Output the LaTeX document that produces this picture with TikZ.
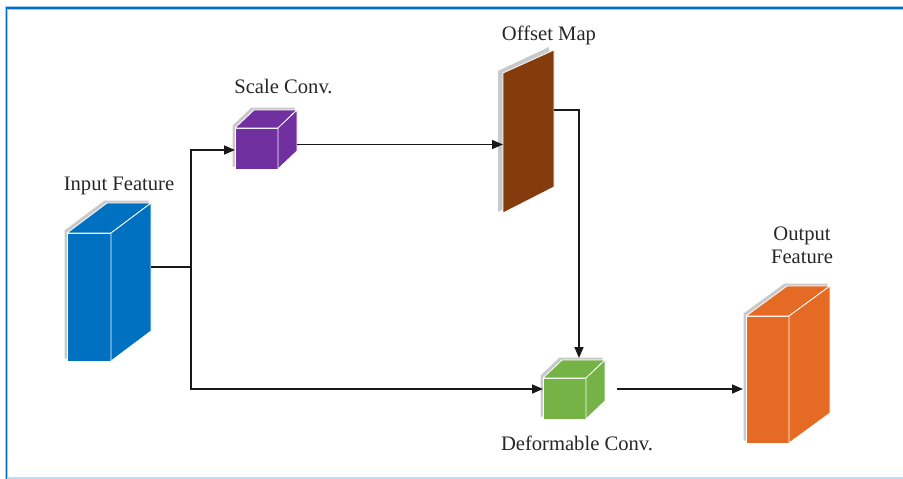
\documentclass[tikz,border=0pt]{standalone}
\usepackage{fontspec}
\setmainfont{Liberation Serif}
\usetikzlibrary{calc,arrows.meta}
\definecolor{cblue}{HTML}{0070C0}
\definecolor{cpurple}{HTML}{7030A0}
\definecolor{cbrown}{HTML}{843C0C}
\definecolor{cgreen}{HTML}{76B347}
\definecolor{corange}{HTML}{E56B25}
\definecolor{boxshadow}{HTML}{C9C9C9}
\definecolor{frameblue}{HTML}{0A6CC4}
\definecolor{framelight}{HTML}{9CCBF0}
\definecolor{framebottom}{HTML}{BDDDF4}
\tikzset{
  face/.style={draw=white, line width=0.8pt, line join=round},
  frontbox/.style={rectangle, inner sep=0pt, outer sep=0pt},
  lbl/.style={inner sep=0pt, font=\fontsize{20.6}{23}\selectfont, text=black!85},
  conn/.style={line width=1.6pt, black!90},
  arr/.style={conn, -{Triangle[length=11pt,width=9pt]}},
}
\newcommand\cuboid[4]{%
  \fill[boxshadow] ($(#1.north west)+(-2.5,-2.5)$) -- ($(#1.north west)+(#2-2.5,-#3-2.5)$)
    -- ($(#1.north east)+(#2-2.5,-#3-2.5)$) -- ($(#1.south east)+(#2-2.5,-#3-2.5)$)
    -- ($(#1.south east)+(-2.5,-2.5)$) -- ($(#1.south west)+(-2.5,-2.5)$) -- cycle;
  \filldraw[face, fill=#4] (#1.south west) rectangle (#1.north east);
  \filldraw[face, fill=#4] (#1.north west) -- ($(#1.north west)+(#2,-#3)$)
    -- ($(#1.north east)+(#2,-#3)$) -- (#1.north east) -- cycle;
  \filldraw[face, fill=#4] (#1.north east) -- ($(#1.north east)+(#2,-#3)$)
    -- ($(#1.south east)+(#2,-#3)$) -- (#1.south east) -- cycle;
}
\begin{document}
\begin{tikzpicture}[x=1pt,y=-1pt]
\useasboundingbox (0,0) rectangle (903,479);
% frame
\draw[framelight, line width=3.5pt] (6.5,479) -- (6.5,8) -- (903,8);
\draw[frameblue, line width=1.8pt] (6.5,479) -- (6.5,8) -- (903,8);
\draw[framebottom, line width=1.6pt] (6.5,478) -- (903,478);

% box front faces
\node[frontbox, minimum width=44pt, minimum height=128pt] (in) at (89,297) {};
\node[frontbox, minimum width=43pt, minimum height=41pt] (sc) at (256.5,148.5) {};
\node[frontbox, minimum width=51pt, minimum height=163pt] (om) at (528.5,131.5) {};
\node[frontbox, minimum width=43pt, minimum height=41pt] (dc) at (564.5,398.5) {};
\node[frontbox, minimum width=43pt, minimum height=127pt] (out) at (767.5,379.5) {};

\cuboid{in}{40}{30}{cblue}
\cuboid{sc}{19}{18}{cpurple}
\cuboid{dc}{19}{18}{cgreen}
\cuboid{out}{41}{30}{corange}

% offset map sheet
\fill[boxshadow] ($(om.south west)+(-5,-1)$) -- ($(om.south west)+(-5,-142)$)
  -- ($(om.north east)+(-5,-3)$) -- ($(om.north east)+(-5,135)$) -- cycle;
\filldraw[face, fill=cbrown] (om.south west) -- ($(om.south west)+(0,-140)$)
  -- (om.north east) -- ($(om.north east)+(0,137)$) -- cycle;

% labels
\node[lbl, anchor=base] (tin) at (119,190) {Input Feature};
\node[lbl, anchor=base] (tsc) at (283.5,93) {Scale Conv.};
\node[lbl, anchor=base] (tom) at (549,40) {Offset Map};
\node[lbl, anchor=base] (tout1) at (802,240) {Output};
\node[lbl, anchor=base] (tout2) at (802,263) {Feature};
\node[lbl, anchor=base] (tdc) at (577,450) {Deformable Conv.};

% connectors
\coordinate (j) at (191,267);
\coordinate (inR) at ($(in.east)+(40,-30)$);
\coordinate (scIn) at ($(sc.west)+(0,1.5)$);
\coordinate (dcIn) at ($(dc.west)+(0,-9.5)$);
\coordinate (scOut) at ($(sc.east)+(19,-4)$);
\coordinate (omOut) at ($(om.north east)+(0,60)$);
\coordinate (dcTop) at ($(dc.north)+(14.5,-20)$);
\coordinate (dcOut) at ($(dc.east)+(31,-9.5)$);

\draw[conn] (inR) -- (j);
\draw[arr] (j) |- (scIn);
\draw[arr] (j) |- (dcIn);
\draw[arr] (scOut) -- (scOut -| om.west);
\draw[arr] (omOut) -| (dcTop);
\draw[arr, shorten >=3pt] (dcOut) -- (dcOut -| out.west);
\end{tikzpicture}
\end{document}
